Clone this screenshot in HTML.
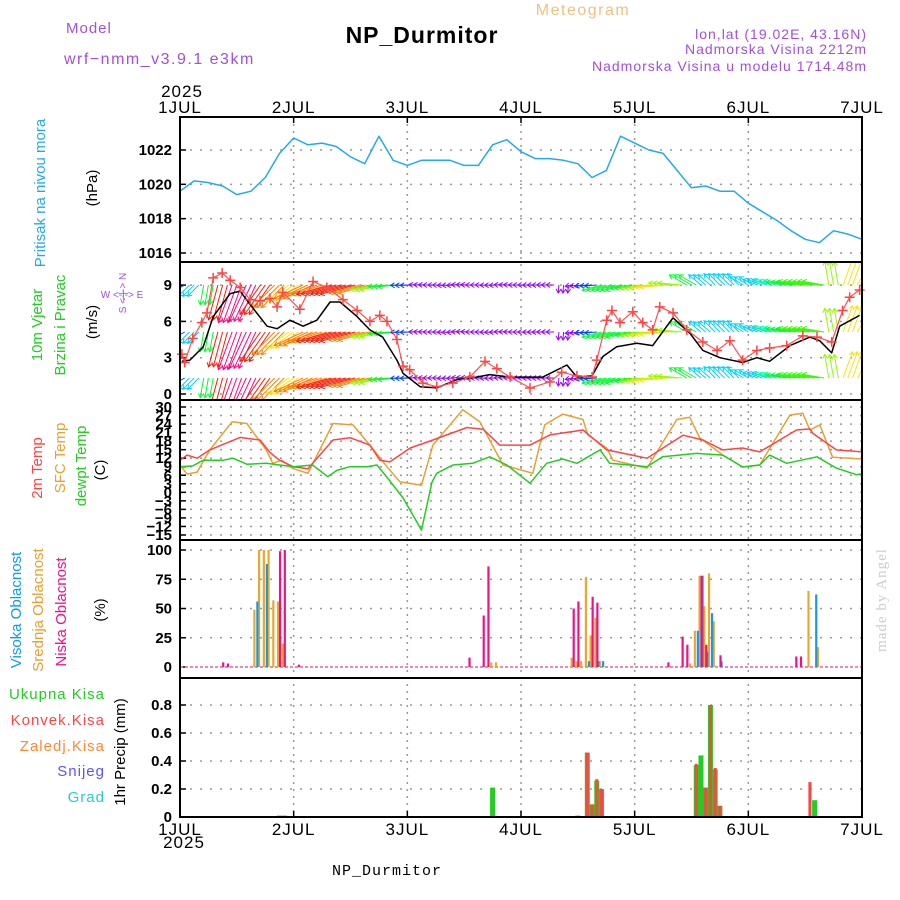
<!DOCTYPE html>
<html><head><meta charset="utf-8">
<style>
html,body{margin:0;padding:0;background:#fff;}
svg{display:block;font-family:"Liberation Sans",sans-serif;}
.tk{font-size:15px;font-weight:bold;fill:#000;}
.lbl{font-size:15px;}
</style></head>
<body>
<svg id="chart" width="900" height="900" viewBox="0 0 900 900" xmlns="http://www.w3.org/2000/svg">
<defs>
<clipPath id="clipWind"><rect x="180" y="262" width="682" height="138"/></clipPath>
</defs>
<text x="66" y="33" font-size="15" fill="#a050e0" letter-spacing="1">Model</text>
<text x="64" y="64" font-size="16" fill="#a050e0" letter-spacing="1.5">wrf−nmm_v3.9.1 e3km</text>
<text x="422" y="43" font-size="23" font-weight="bold" text-anchor="middle" fill="#000" letter-spacing="1">NP_Durmitor</text>
<text x="583" y="15" font-size="16" text-anchor="middle" fill="#f0c080" letter-spacing="1.5">Meteogram</text>
<text x="867" y="39" font-size="14" text-anchor="end" fill="#a050e0" letter-spacing="1">lon,lat (19.02E, 43.16N)</text>
<text x="867" y="54" font-size="14" text-anchor="end" fill="#a050e0" letter-spacing="1">Nadmorska Visina 2212m</text>
<text x="867" y="71" font-size="14" text-anchor="end" fill="#a050e0" letter-spacing="1">Nadmorska Visina u modelu 1714.48m</text>
<text x="182" y="97" font-size="17" text-anchor="middle" fill="#000" letter-spacing="1">2025</text>
<text x="184" y="848" font-size="17" text-anchor="middle" fill="#000" letter-spacing="1">2025</text>
<text x="387" y="875" font-size="15" text-anchor="middle" fill="#000" letter-spacing="1" font-family="Liberation Mono, monospace">NP_Durmitor</text>
<text transform="translate(886,600) rotate(-90)" font-size="15" text-anchor="middle" fill="#ccc" font-family="Liberation Serif, serif" letter-spacing="1">made by Angel</text>

<text transform="translate(45,193) rotate(-90)" class="lbl" text-anchor="middle" fill="#22aaee">Pritisak na nivou mora</text>
<text transform="translate(97,188) rotate(-90)" class="lbl" text-anchor="middle" fill="#000">(hPa)</text>
<text transform="translate(42,325) rotate(-90)" class="lbl" text-anchor="middle" fill="#22cc22">10m Vjetar</text>
<text transform="translate(65,325) rotate(-90)" class="lbl" text-anchor="middle" fill="#22cc22">Brzina i Pravac</text>
<text transform="translate(97,322) rotate(-90)" class="lbl" text-anchor="middle" fill="#000">(m/s)</text>
<text x="122" y="298" font-size="10" text-anchor="middle" fill="#a050e0">W  &lt;-|-&gt;  E</text>
<text transform="translate(126,293) rotate(-90)" font-size="10" text-anchor="middle" fill="#a050e0">S &lt;-|-&gt; N</text>
<text transform="translate(42,468) rotate(-90)" class="lbl" text-anchor="middle" fill="#ff4444">2m Temp</text>
<text transform="translate(65,458) rotate(-90)" class="lbl" text-anchor="middle" fill="#e8a030">SFC Temp</text>
<text transform="translate(86,466) rotate(-90)" class="lbl" text-anchor="middle" fill="#22cc22">dewpt Temp</text>
<text transform="translate(105,470) rotate(-90)" class="lbl" text-anchor="middle" fill="#000">(C)</text>
<text transform="translate(21,610) rotate(-90)" class="lbl" text-anchor="middle" fill="#1199ee">Visoka Oblacnost</text>
<text transform="translate(43,610) rotate(-90)" class="lbl" text-anchor="middle" fill="#e8a030">Srednja Oblacnost</text>
<text transform="translate(66,612) rotate(-90)" class="lbl" text-anchor="middle" fill="#ee1188">Niska Oblacnost</text>
<text transform="translate(105,610) rotate(-90)" class="lbl" text-anchor="middle" fill="#000">(%)</text>
<text x="105" y="699" class="lbl" text-anchor="end" fill="#22cc22" letter-spacing="1">Ukupna Kisa</text>
<text x="105" y="725" class="lbl" text-anchor="end" fill="#ff4444" letter-spacing="1">Konvek.Kisa</text>
<text x="105" y="751" class="lbl" text-anchor="end" fill="#ff8833" letter-spacing="1">Zaledj.Kisa</text>
<text x="105" y="776" class="lbl" text-anchor="end" fill="#5555ff" letter-spacing="1">Snijeg</text>
<text x="105" y="802" class="lbl" text-anchor="end" fill="#22cccc" letter-spacing="1">Grad</text>
<text transform="translate(125,752) rotate(-90)" class="lbl" text-anchor="middle" fill="#000">1hr Precip (mm)</text>
<g id="plots"></g>
</svg>
<script>
// ---------- data ----------
const dayLabels = ["1JUL","2JUL","3JUL","4JUL","5JUL","6JUL","7JUL"];
const pressure3h = [1019.6,1020.2,1020.1,1019.9,1019.4,1019.6,1020.4,1021.8,1022.7,1022.3,1022.4,1022.2,1021.6,1021.2,1022.8,1021.4,1021.1,1021.4,1021.4,1021.4,1021.1,1021.1,1022.3,1022.6,1021.9,1021.5,1021.5,1021.4,1021.2,1020.4,1020.8,1022.8,1022.4,1022.0,1021.8,1020.8,1019.8,1019.9,1019.6,1019.6,1018.9,1018.4,1017.9,1017.3,1016.8,1016.6,1017.3,1017.1,1016.8];
const pressureTicks = [1016,1018,1020,1022];

const windHours = [0.4,2.1,4.9,7,10.6,12.7,14.8,18.4,20.5,23.2,26,28.9,31.7,33.8,37.4,40.1,42.8,45.8,47.1,50.7,54.2,58.5,61.2,65.4,69.7,76.6,81.7,83.8,87,89.3,92.2,96.5,99.8,104.1,107.7,110.4,114,118.8,121.8,124.5,128.8,133,135.1,137.6,139.3,143.5];
const windSpeed = [2.7,2.8,3.9,6.4,8.3,8.5,7.4,5.6,5.4,6.1,5.6,6.1,7.6,7.6,6.4,5.3,4.7,2.8,1.7,0.6,0.5,1.2,1.3,1.6,1.4,1.4,2.4,1.4,1.5,3.1,3.9,4.2,4.0,6.3,5.0,3.6,3.0,2.6,3.0,2.7,4.0,4.7,4.4,3.4,5.6,6.5];
const gustHours = [0.4,1,2.7,4.6,5.7,7,8.9,10.6,12.7,14.8,16.9,19,20.5,21.7,25.3,28.1,31,34.4,37.4,40.1,42.2,43.7,45.8,47.1,48.5,51.3,54.2,57.6,61.2,64.4,66.9,69.7,73.9,78.1,80.6,83.8,87,88,90.1,91.2,92.9,95.6,97.7,99.8,101.3,104.1,107,110.4,113.4,116.1,118.8,121.8,124.5,128.1,131.5,134.5,137.6,139.9,141.4,143.5];
const gustSpeed = [3.3,2.6,4.6,5.9,6.7,9.6,10,9.4,8.8,7.8,7.7,7.9,7.2,8.4,7.0,9.3,8.8,7.8,6.9,6.0,6.5,6.0,4.5,2.3,2.0,0.9,0.6,0.9,1.4,2.7,2.1,1.4,0.5,1.0,1.8,1.5,1.4,2.8,6.1,6.9,5.9,6.8,5.9,5.3,7.2,6.7,5.3,4.3,3.6,4.4,2.8,3.6,3.8,4.0,4.8,4.7,4.3,6.9,8.0,8.6];
const arrowDir3h = [60,45,10,15,20,25,35,45,55,65,72,75,75,75,78,85,88,92,90,87,93,90,88,92,90,89,91,5,80,85,75,75,80,82,85,95,120,130,135,135,120,110,105,100,100,100,170,200,210];
const arrowSpd3h = [3,4,5,9,10,10,9,8,7,8,8,9,9,8,6,5,3,2,2,2,2,2,2,2,2,2,2,2,2,3,5,5,5,6,7,6,5,4,4,4,4,4,4.5,5,5.5,5.5,6,7,7];
const windTicks = [0,3,6,9];

const t2Hours = [0,1.5,3.6,6.3,12.7,16.9,19,21,23.9,27,32.3,35.9,40.1,42.2,44.3,48.6,53.4,60.6,64,67.5,73.9,78.1,85.1,90.1,98.6,106.2,110.4,114.6,118.8,122.4,130.2,133,133.6,138.6,144];
const t2Values = [11.3,13.1,12,14.9,19.3,18.4,14,11.3,9,8.3,18.4,19.2,16.6,11.3,10.7,15.6,18.4,22.8,22.2,16.6,16.6,20.2,21.9,14.9,12,20.1,18.4,14.9,15.6,14.2,21.9,22.3,20.8,14.9,14.2];
const sfcHours = [0,1.5,3.6,6.3,11,14.1,18.2,19.6,21.5,23.9,27,32.3,36.5,40.1,43.7,46.4,51,53.4,59.7,63.3,68.2,74.5,77,80.8,85.1,86.1,90.1,91.4,98.6,104.9,107.6,109.7,114.6,118.8,122.4,128.8,131.5,133,135.1,137.8,144];
const sfcValues = [9.6,6.4,7.1,14.9,24.8,24.2,14.9,10.2,11.3,8.3,6.7,24.2,23.7,16.6,9,3.7,2.5,16.6,29,24.8,9.6,6.7,23.7,27.5,25.6,20.2,15.6,11.3,8.5,25.6,26.4,19.2,13.1,8.9,9.6,27.2,27.8,21.9,23.7,12.3,11.7];
const tdHours = [0,2.7,4.9,9.1,11.2,14.1,18.2,23.9,28,31.2,33.1,35.9,39.5,41.6,44.3,47.1,51,53.2,54.2,57.6,61.8,65.4,69,73.9,77.4,80.8,83.8,88.7,90.7,95,98.6,101.9,109.1,114.6,118.8,122.4,124.5,128.1,134.5,138.6,142.8,144];
const tdValues = [9,9.3,11.3,11.3,12,9.9,10.2,9,9.6,5.5,7.7,9,9,9.6,4,-2,-13.3,3.6,6.7,9.6,10.2,12.5,9.6,3.2,10.2,11.7,10.2,14.9,10.2,9.6,9,12.5,13.7,13.1,8.9,9.6,13.1,10.2,12.5,8.5,6.2,6.5];
const tempTicks = [30,27,24,21,18,15,12,9,6,3,0,-3,-6,-9,-12,-15];

const cloudHighHours = [16,18,86,88,89,109,110,111,112,114,134];
const cloudHighValues = [56,88,5,5,5,31,78,13,46,5,62];
const cloudMidHours = [16,17,18,19,20,21,22,66,67,83,84,85,86,87,88,89,108,109,110,111,112,113,133,135];
const cloudMidValues = [49,100,100,100,57,56,20,4,4,8,5,5,77,27,42,5,3,31,78,52,80,39,65,17];
const cloudLowHours = [9,10,21,22,25,61,64,65,83,84,87,88,103,106,107,110,111,114,130,131];
const cloudLowValues = [4,3,99,100,2,8,44,86,50,56,60,55,4,26,19,78,19,10,9,9];
const cloudTicks = [0,25,50,75,100];

const precipTotalHours = [21,22,66,84,86,87,88,89,109,110,111,112,113,114,134];
const precipTotalValues = [0.01,0.01,0.21,0.01,0.46,0.09,0.26,0.2,0.37,0.44,0.21,0.8,0.34,0.08,0.12];
const precipConvHours = [86,87,88,89,109,111,112,113,114,133];
const precipConvValues = [0.46,0.09,0.27,0.2,0.38,0.21,0.8,0.35,0.08,0.25];
const precipTicks = [0,0.2,0.4,0.6,0.8];

// ---------- layout ----------
const NS = "http://www.w3.org/2000/svg";
const X0 = 180, X1 = 862;
const pxPerHour = (X1 - X0) / 144;
const xh = h => X0 + h * pxPerHour;
const yP = p => 253 - (p - 1016) * 17.17;
const yW = s => 394 - s * 12.1;
const yT = t => 407 + (30 - t) * 2.844;
const yC = v => 667 - v * 1.17;
const yR = v => 817 - v * 140;
const panels = [[117,262],[262,400],[400,540],[540,678],[678,817]];
const root = document.getElementById('plots');

function mk(tag, attrs, parent) {
  const e = document.createElementNS(NS, tag);
  for (const k in attrs) e.setAttribute(k, attrs[k]);
  (parent || root).appendChild(e);
  return e;
}

// grid
const gridG = mk('g', {});


for (let d = 1; d < 6; d++) {
  const gl = mk('line', {x1: xh(d*24), x2: xh(d*24), y1: 117, y2: 817, stroke: '#999', 'stroke-width': 1.5, 'stroke-dasharray': '2,5'}, gridG);
  
  
}
function hgrid(y) {
  const gl = mk('line', {x1: X0, x2: X1, y1: y, y2: y, stroke: '#999', 'stroke-width': 1.5, 'stroke-dasharray': '2,8'}, gridG);
  
  
}
pressureTicks.forEach(p => hgrid(yP(p)));
windTicks.forEach(s => hgrid(yW(s)));
tempTicks.forEach(t => hgrid(yT(t)));
cloudTicks.forEach(c => hgrid(yC(c)));
precipTicks.forEach(r => hgrid(yR(r)));

// tick labels
function ytick(y, txt) {
  const t = mk('text', {x: 172, y: y + 5, 'text-anchor': 'end', class: 'tk'});
  t.textContent = txt;
  
  
  const tm = mk('line', {x1: X0, x2: X0 + 6, y1: y, y2: y, stroke: '#000', 'stroke-width': 1.5});
  
  
}
pressureTicks.forEach(p => ytick(yP(p), String(p)));
windTicks.forEach(s => ytick(yW(s), String(s)));
tempTicks.forEach(t => ytick(yT(t), String(t).replace('-', '−')));
cloudTicks.forEach(c => ytick(yC(c), String(c)));
precipTicks.forEach(r => ytick(yR(r), r === 0 ? '0' : r.toFixed(1)));

dayLabels.forEach((lab, d) => {
  const t1 = mk('text', {x: xh(d*24), y: 113, 'text-anchor': 'middle', 'font-size': 17, 'letter-spacing': 1});
  t1.textContent = lab;
  
  
  const t2 = mk('text', {x: xh(d*24), y: 835, 'text-anchor': 'middle', 'font-size': 17, 'letter-spacing': 1});
  t2.textContent = lab;
  
  
});

function polyline(xs, ys, color, width, name, parent) {
  let d = '';
  xs.forEach((x, i) => { d += (i ? 'L' : 'M') + x.toFixed(1) + ',' + ys[i].toFixed(1); });
  const p = mk('path', {d: d, fill: 'none', stroke: color, 'stroke-width': width, 'stroke-linejoin': 'round'}, parent);
  
  
  return p;
}

// pressure
polyline(pressure3h.map((p, i) => xh(i*3)), pressure3h.map(yP), '#22aaee', 1.5, 'pressure-line');

// wind arrows
const windG = mk('g', {'clip-path': 'url(#clipWind)'});


function spdColor(s) {
  const stops = [[2,275],[3,225],[4,190],[5,130],[6,85],[7,55],[8,30],[9,5],[10,-30]];
  let h = stops[0][1];
  if (s >= stops[stops.length-1][0]) h = stops[stops.length-1][1];
  for (let i = 0; i < stops.length - 1; i++) {
    if (s >= stops[i][0] && s <= stops[i+1][0]) {
      const f = (s - stops[i][0]) / (stops[i+1][0] - stops[i][0]);
      h = stops[i][1] + f * (stops[i+1][1] - stops[i][1]);
    }
  }
  return 'hsl(' + ((h + 360) % 360).toFixed(0) + ',95%,50%)';
}
const rowY = [285, 332, 378];
for (let h = 0; h <= 144; h++) {
  const i = Math.min(48, Math.round(h / 3));
  const s = arrowSpd3h[i], a = arrowDir3h[i] * Math.PI / 180;
  const L = s * 4, dx = -Math.sin(a), dy = Math.cos(a);
  const col = spdColor(s);
  rowY.forEach(ry => {
    const x = xh(h), tx = x + dx * L, ty = ry + dy * L;
    const px = -dy, py = dx;
    const d = 'M' + x.toFixed(1) + ',' + ry + 'L' + tx.toFixed(1) + ',' + ty.toFixed(1) +
      'M' + (tx - dx*4 + px*2.5).toFixed(1) + ',' + (ty - dy*4 + py*2.5).toFixed(1) + 'L' + tx.toFixed(1) + ',' + ty.toFixed(1) +
      'L' + (tx - dx*4 - px*2.5).toFixed(1) + ',' + (ty - dy*4 - py*2.5).toFixed(1);
    const ar = mk('path', {d: d, stroke: col, 'stroke-width': 1, fill: 'none'}, windG);
    
    
  });
}
polyline(windHours.map(xh), windSpeed.map(yW), '#000', 1.5, 'wind-speed-line');
polyline(gustHours.map(xh), gustSpeed.map(yW), '#ff5050', 1.2, 'wind-gust-line');
gustHours.forEach((h, i) => {
  const x = xh(h), y = yW(gustSpeed[i]);
  const c = mk('path', {d: 'M' + (x-5) + ',' + y + 'L' + (x+5) + ',' + y + 'M' + x + ',' + (y-5) + 'L' + x + ',' + (y+5), stroke: '#ff4444', 'stroke-width': 1.5});
  
  
});

// temperature
polyline(sfcHours.map(xh), sfcValues.map(yT), '#e8a030', 1.5, 'sfc-temp-line');
polyline(t2Hours.map(xh), t2Values.map(yT), '#ff4444', 1.5, 'temp-2m-line');
polyline(tdHours.map(xh), tdValues.map(yT), '#22cc22', 1.5, 'dewpoint-line');

// clouds
const base = mk('line', {x1: X0, x2: X1, y1: 667, y2: 667, stroke: '#ee88bb', 'stroke-width': 2, 'stroke-dasharray': '3,2'});


function cbar(h, v, off, col, name) {
  const x = xh(h) + off;
  const r = mk('rect', {x: x - 1, y: yC(v), width: 2.2, height: 667 - yC(v), fill: col});
  
  
}
cloudMidHours.forEach((h, i) => cbar(h, cloudMidValues[i], -1.5, '#e8a830', 'cloud-mid-bar'));
cloudHighHours.forEach((h, i) => cbar(h, cloudHighValues[i], 1.5, '#1199ee', 'cloud-high-bar'));
cloudLowHours.forEach((h, i) => cbar(h, cloudLowValues[i], 0.5, '#ee1188', 'cloud-low-bar'));

// precip
precipTotalHours.forEach((h, i) => {
  const x = xh(h), v = precipTotalValues[i];
  const r = mk('rect', {x: x - 2.5, y: yR(v), width: 5, height: 817 - yR(v), fill: '#22cc22'});
  
  
});
precipConvHours.forEach((h, i) => {
  const x = xh(h), v = precipConvValues[i];
  const r = mk('rect', {x: x - 1.5, y: yR(v), width: 3, height: 817 - yR(v), fill: '#ff4444'});
  
  
});

// frames
panels.forEach(([a, b]) => {
  const fr = mk('rect', {x: X0, y: a, width: X1 - X0, height: b - a, fill: 'none', stroke: '#000', 'stroke-width': 2});
  
  
});
for (let d = 0; d <= 6; d++) {
  const tm = mk('line', {x1: xh(d*24), x2: xh(d*24), y1: 117, y2: 123, stroke: '#000', 'stroke-width': 1.5});
  
  
  const tb = mk('line', {x1: xh(d*24), x2: xh(d*24), y1: 811, y2: 817, stroke: '#000', 'stroke-width': 1.5});
  
  
}
</script>
</body></html>
